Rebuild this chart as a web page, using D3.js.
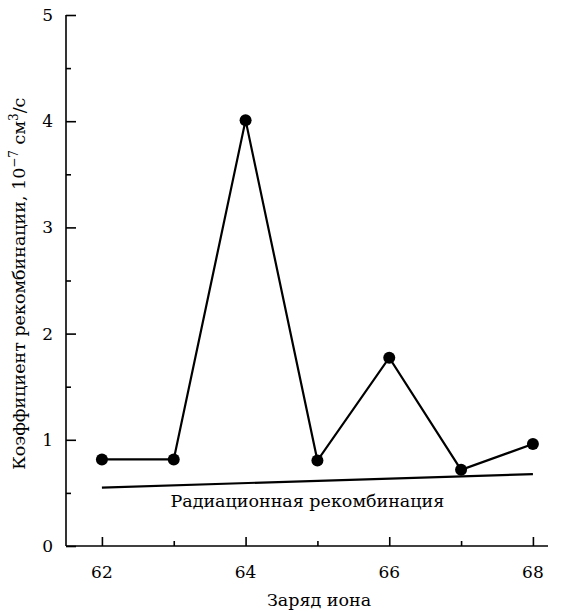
<!DOCTYPE html>
<html>
<head>
<meta charset="utf-8">
<script src="https://cdn.jsdelivr.net/npm/d3@7"></script>
<style>
  body { margin: 0; background: #fff; }
</style>
</head>
<body>
<svg id="chart" width="564" height="612"></svg>
<script>
// Ion charge and measured recombination coefficient (10^-7 cm^3/s)
const charges = [62, 63, 64, 65, 66, 67, 68];
const coefficients = [0.815, 0.815, 4.01, 0.805, 1.773, 0.717, 0.96];
// Radiative recombination baseline (end points)
const radiativeCharges = [62, 68];
const radiativeValues = [0.55, 0.677];
const xMajorTicks = [62, 64, 66, 68];
const xMinorTicks = [63, 65, 67];
const yMajorTicks = [0, 1, 2, 3, 4, 5];
const yMinorTicks = [0.5, 1.5, 2.5, 3.5, 4.5];

const FONT = "'DejaVu Serif', serif";

const svg = d3.select("#chart");
const plotLeft = 66, plotRight = 548, plotTop = 15, plotBottom = 546;

const x = d3.scaleLinear().domain([61.5, 68.21]).range([plotLeft, plotRight]);
const y = d3.scaleLinear().domain([0, 5]).range([plotBottom, plotTop]);

const g = svg.append("g").attr("font-family", FONT).attr("fill", "#000");

// X axis: ticks point inward (up)
const xAxis = g.append("g").attr("transform", `translate(0,${plotBottom})`)
  .call(d3.axisTop(x).tickValues(xMajorTicks).tickSize(9).tickFormat(""));
g.append("g").attr("transform", `translate(0,${plotBottom})`)
  .call(d3.axisTop(x).tickValues(xMinorTicks).tickSize(5).tickFormat(""))
  .select(".domain").remove();
xAxis.select(".domain").attr("d", `M${plotLeft},0H${plotRight}`);

// Y axis: ticks point inward (right)
const yAxis = g.append("g").attr("transform", `translate(${plotLeft},0)`)
  .call(d3.axisRight(y).tickValues(yMajorTicks).tickSize(10).tickFormat(""));
g.append("g").attr("transform", `translate(${plotLeft},0)`)
  .call(d3.axisRight(y).tickValues(yMinorTicks).tickSize(5).tickFormat(""))
  .select(".domain").remove();
yAxis.select(".domain").attr("d", `M0,${plotTop}V${plotBottom}`);

g.selectAll(".domain, .tick line").attr("stroke", "#000").attr("stroke-width", 1.6);

// Tick labels
g.selectAll(".xlab").data(xMajorTicks).join("text")
  .attr("font-family", FONT)
  .attr("x", d => x(d)).attr("y", plotBottom + 32)
  .attr("text-anchor", "middle").attr("font-size", 17).text(d => d);
g.selectAll(".ylab").data(yMajorTicks).join("text")
  .attr("font-family", FONT)
  .attr("x", plotLeft - 13).attr("y", d => y(d) + 6)
  .attr("text-anchor", "end").attr("font-size", 17).text(d => d);

// Radiative recombination line
const line = d3.line().x(d => x(d[0])).y(d => y(d[1]));
g.append("path")
  .attr("d", line(radiativeCharges.map((c, i) => [c, radiativeValues[i]])))
  .attr("fill", "none").attr("stroke", "#000").attr("stroke-width", 2.2);

g.append("text").attr("x", x(64.86)).attr("y", 507)
  .attr("font-family", FONT)
  .attr("text-anchor", "middle").attr("font-size", 17.5)
  .text("Радиационная рекомбинация");

// Measured coefficients
const pts = charges.map((c, i) => [c, coefficients[i]]);
g.append("path").attr("d", line(pts))
  .attr("fill", "none").attr("stroke", "#000").attr("stroke-width", 2.2);
g.selectAll("circle").data(pts).join("circle")
  .attr("cx", d => x(d[0])).attr("cy", d => y(d[1])).attr("r", 6).attr("fill", "#000");

// Axis titles
g.append("text").attr("x", 319).attr("y", 606)
  .attr("font-family", FONT)
  .attr("text-anchor", "middle").attr("font-size", 17.5).text("Заряд иона");

const yt = g.append("text")
  .attr("font-family", FONT)
  .attr("transform", `translate(25,${y(2.47)}) rotate(-90)`)
  .attr("text-anchor", "middle").attr("font-size", 17.5);
yt.append("tspan").text("Коэффициент рекомбинации, 10");
yt.append("tspan").attr("dy", -7).attr("font-size", 12).text("−7");
yt.append("tspan").attr("dy", 7).text(" см");
yt.append("tspan").attr("dy", -7).attr("font-size", 12).text("3");
yt.append("tspan").attr("dy", 7).text("/с");
</script>
</body>
</html>
